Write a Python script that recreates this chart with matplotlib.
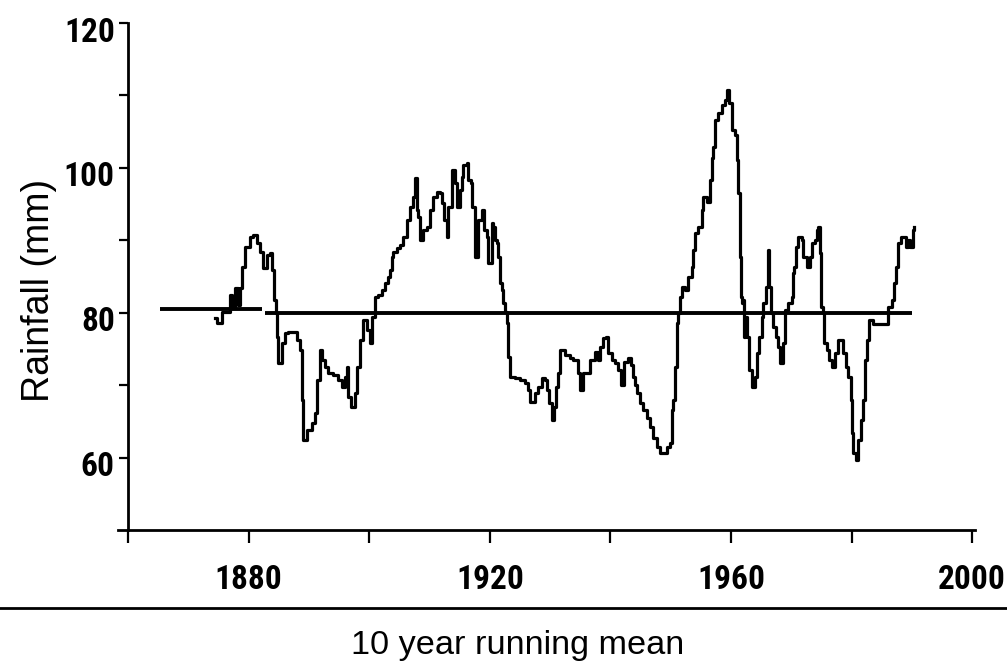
import matplotlib
matplotlib.use("Agg")
import matplotlib.pyplot as plt
import matplotlib.transforms as mtransforms
from matplotlib import font_manager

# 10 year running mean of rainfall (mm), traced by year
years = [1874.4, 1874.8, 1875.6, 1876.6, 1876.9, 1877.2, 1877.7, 1878.2, 1878.6, 1878.9,
         1879.4, 1880.2, 1880.7, 1881.4, 1881.9, 1882.4, 1883.1, 1883.5, 1883.9, 1884.2,
         1884.5, 1884.7, 1884.9, 1885.5, 1886.0, 1886.5, 1887.4, 1888.0, 1888.5, 1888.9,
         1889.0, 1889.7, 1890.5, 1891.0, 1891.3, 1891.8, 1892.2, 1892.7, 1893.2, 1894.0,
         1894.8, 1895.5, 1896.0, 1896.3, 1896.5, 1897.0, 1897.6, 1898.0, 1898.5, 1899.0,
         1899.6, 1900.1, 1900.5, 1901.0, 1901.5, 1902.1, 1902.6, 1903.1, 1903.5, 1903.8,
         1903.9, 1904.6, 1905.1, 1905.6, 1906.3, 1906.8, 1907.3, 1907.6, 1907.9, 1908.1,
         1908.4, 1908.9, 1909.6, 1910.1, 1910.6, 1911.2, 1911.7, 1912.1, 1912.4, 1912.9,
         1913.1, 1913.7, 1913.8, 1914.2, 1914.6, 1915.1, 1915.4, 1915.6, 1916.2, 1916.4,
         1916.9, 1917.0, 1917.5, 1917.6, 1918.0, 1918.7, 1919.0, 1919.5, 1919.7, 1920.4,
         1920.5, 1920.9, 1921.2, 1921.4, 1921.7, 1922.0, 1922.2, 1922.5, 1922.9, 1923.0,
         1923.4, 1924.2, 1925.0, 1925.8, 1926.3, 1926.7, 1927.5, 1928.0, 1928.7, 1929.2,
         1929.5, 1929.8, 1930.3, 1930.6, 1931.0, 1931.3, 1931.6, 1931.7, 1932.5, 1933.3,
         1933.8, 1934.6, 1935.0, 1935.5, 1936.6, 1937.4, 1937.9, 1938.3, 1938.8, 1939.3,
         1939.6, 1940.3, 1940.8, 1941.3, 1941.8, 1942.3, 1942.9, 1943.4, 1943.8, 1944.1,
         1944.4, 1944.9, 1945.4, 1946.1, 1946.6, 1947.1, 1947.7, 1948.2, 1948.7, 1949.4,
         1949.9, 1950.2, 1950.4, 1950.7, 1951.0, 1951.2, 1951.5, 1951.9, 1952.4, 1952.9,
         1953.5, 1953.7, 1954.0, 1954.5, 1955.2, 1955.4, 1956.0, 1956.5, 1956.8, 1957.0,
         1957.3, 1957.8, 1958.5, 1959.0, 1959.3, 1959.7, 1960.2, 1960.7, 1961.0, 1961.2,
         1961.5, 1961.6, 1961.8, 1962.0, 1962.2, 1962.3, 1962.7, 1963.0, 1963.5, 1964.0,
         1964.3, 1964.6, 1965.1, 1965.3, 1965.8, 1966.1, 1966.3, 1966.6, 1967.0, 1967.5,
         1967.8, 1968.1, 1968.6, 1969.0, 1969.5, 1970.1, 1970.3, 1970.4, 1970.8, 1971.1,
         1971.8, 1971.9, 1972.6, 1973.1, 1973.4, 1973.9, 1974.3, 1974.4, 1974.8, 1974.9,
         1975.3, 1975.4, 1975.9, 1976.3, 1976.8, 1977.3, 1977.7, 1978.2, 1978.6, 1979.1,
         1979.4, 1979.9, 1980.1, 1980.2, 1980.7, 1981.1, 1981.6, 1981.9, 1982.2, 1982.6,
         1982.9, 1983.6, 1985.2, 1986.0, 1986.7, 1987.0, 1987.4, 1987.7, 1988.2, 1988.5,
         1989.0, 1989.4, 1989.7, 1990.2, 1990.4]
rain = [79.3, 78.6, 80.1, 80.1, 82.4, 80.8, 83.4, 81.1, 83.4, 86.3,
        89.1, 90.5, 90.7, 89.6, 88.4, 86.2, 88.0, 88.2, 85.9, 81.8,
        80.0, 76.6, 73.1, 75.8, 77.2, 77.3, 77.3, 76.2, 74.9, 68.0,
        62.4, 63.8, 64.8, 66.2, 70.7, 74.9, 73.5, 72.5, 71.7, 71.4,
        70.7, 69.7, 71.1, 72.5, 68.4, 67.0, 68.9, 72.5, 76.2, 79.0,
        77.6, 75.8, 79.4, 82.2, 82.4, 83.1, 84.1, 84.9, 85.9, 87.7,
        88.4, 88.9, 89.3, 90.5, 92.8, 94.6, 96.0, 98.6, 94.2, 93.2,
        90.0, 91.4, 91.8, 94.2, 96.0, 96.7, 96.5, 95.1, 92.8, 90.5,
        94.6, 96.9, 99.7, 97.9, 94.6, 96.9, 98.7, 100.4, 100.7, 98.3,
        97.9, 94.6, 90.5, 87.7, 92.8, 94.2, 91.4, 90.5, 86.9, 92.4,
        91.8, 90.0, 89.6, 87.7, 84.1, 83.1, 81.3, 80.1, 78.6, 73.9,
        71.1, 71.0, 70.7, 70.3, 69.3, 67.7, 68.9, 69.7, 71.0, 70.7,
        69.3, 67.5, 65.2, 67.0, 69.7, 71.7, 72.5, 74.9, 74.2, 73.7,
        73.5, 71.7, 69.3, 71.7, 73.5, 74.6, 73.5, 75.3, 76.5, 76.6,
        74.4, 73.5, 73.1, 72.1, 70.0, 73.2, 73.7, 72.8, 71.1, 70.0,
        68.9, 67.5, 66.6, 65.5, 64.2, 62.7, 61.5, 60.6, 60.6, 61.5,
        62.0, 66.6, 68.0, 72.5, 78.6, 80.0, 82.2, 83.5, 83.1, 84.9,
        86.3, 88.7, 91.0, 91.8, 94.2, 96.0, 95.3, 98.3, 101.4, 102.9,
        106.6, 107.6, 108.7, 109.4, 110.7, 109.0, 105.2, 104.5, 101.1, 96.5,
        87.7, 82.2, 81.3, 81.8, 76.6, 79.4, 76.6, 72.1, 69.7, 71.1,
        74.4, 76.6, 79.4, 81.3, 83.5, 88.7, 83.5, 80.0, 78.0, 76.6,
        75.3, 73.1, 75.8, 80.4, 81.3, 82.2, 85.5, 86.3, 89.1, 90.5,
        90.0, 87.7, 86.3, 87.7, 89.6, 90.0, 91.4, 91.8, 88.2, 80.8,
        80.0, 75.8, 74.9, 73.5, 72.5, 74.4, 76.2, 76.2, 74.4, 72.5,
        71.1, 68.0, 63.4, 60.6, 59.7, 62.4, 65.2, 68.0, 73.5, 76.2,
        79.0, 78.4, 78.4, 80.8, 81.8, 84.1, 86.3, 89.6, 90.5, 90.5,
        89.1, 90.0, 89.1, 91.4, 91.8]

# long term mean, two periods
mean_years = [[1865.3, 1882.2], [1882.7, 1990.0]]
mean_values = [80.5, 80.0]

x_ticks = [1860, 1880, 1900, 1920, 1940, 1960, 1980, 2000]
x_labels = ["", "1880", "", "1920", "", "1960", "", "2000"]
y_ticks = [60, 70, 80, 90, 100, 110, 120]
y_labels = ["60", "", "80", "", "100", "", "120"]

# narrow face for the tick numbers if one is installed
fonts = font_manager.fontManager.ttflist
names = {f.name for f in fonts}
tick_kw = dict(family="DejaVu Sans", fontsize=19)
for narrow in ["Liberation Sans Narrow", "Roboto Condensed", "Open Sans Condensed"]:
    if narrow in names:
        tick_kw = dict(family=narrow, fontsize=24, fontweight="bold")
        break
else:
    if any(f.name == "DejaVu Sans" and f.stretch == "condensed" for f in fonts):
        tick_kw = dict(family="DejaVu Sans", fontstretch="condensed",
                       fontsize=21, fontweight="bold")
text_font = "Liberation Sans" if "Liberation Sans" in names else "DejaVu Sans"

fig = plt.figure(figsize=(10.07, 6.63), dpi=100)
ax = fig.add_axes([0.1172, 0.2006, 0.851, 0.7647])

ax.plot(years, rain, color="black", lw=2.3, drawstyle="steps-post")
for yrs, val in zip(mean_years, mean_values):
    ax.plot(yrs, [val, val], color="black", lw=2.8, solid_capstyle="butt")

ax.set_xlim(1858.34, 2000.46)
ax.set_ylim(50, 120)

for side in ["top", "right"]:
    ax.spines[side].set_visible(False)
ax.spines["left"].set_position(("data", 1860))
ax.spines["left"].set_linewidth(2.0)
ax.spines["bottom"].set_linewidth(2.0)

ax.set_xticks(x_ticks)
ax.set_xticklabels(x_labels, **tick_kw)
ax.set_yticks(y_ticks)
ax.set_yticklabels(y_labels, **tick_kw)
ax.tick_params(axis="x", direction="out", length=9.5, width=1.6, pad=15)
ax.tick_params(axis="y", direction="out", length=6.5, width=1.6, pad=3)

# y numbers sit a little below their ticks
shift = mtransforms.ScaledTranslation(0, -0.06, fig.dpi_scale_trans)
for lbl in ax.get_yticklabels():
    lbl.set_transform(lbl.get_transform() + shift)

ax.set_ylabel("Rainfall (mm)", fontsize=27, family=text_font)
ax.yaxis.set_label_coords(-0.071, 0.473)

# rule across the page and caption beneath
fig.add_artist(plt.Line2D([0.0, 1.0], [0.083, 0.083], color="black", lw=2.0,
                          transform=fig.transFigure))
fig.text(0.514, 0.026, "10 year running mean", fontsize=24.7, family=text_font,
         ha="center", va="center")

fig.savefig("out.png", dpi=100)
